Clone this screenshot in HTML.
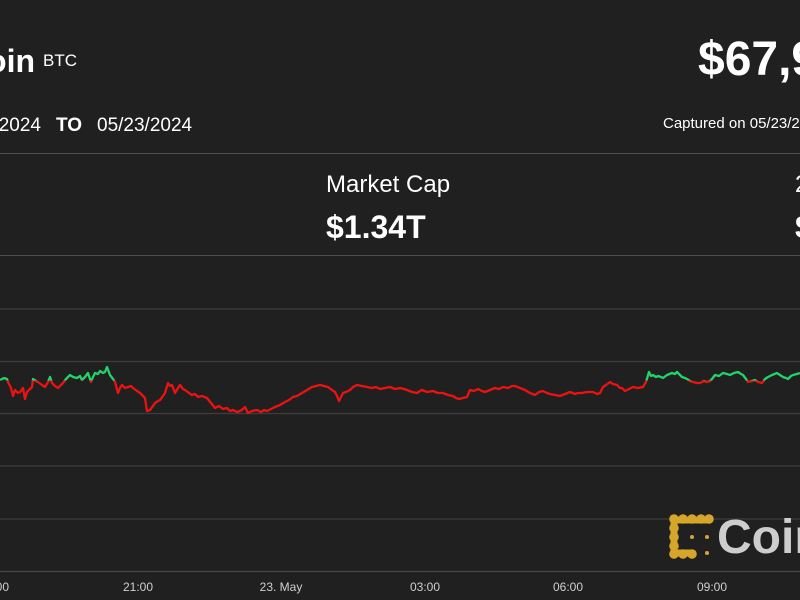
<!DOCTYPE html>
<html><head><meta charset="utf-8"><style>
html,body{margin:0;padding:0;}
body{width:800px;height:600px;background:#202020;overflow:hidden;font-family:"Liberation Sans",Arial,sans-serif;color:#fff;}
#w{position:relative;width:800px;height:600px;overflow:hidden;background:#202020;}
.t{position:absolute;white-space:nowrap;line-height:1;}
.sep{position:absolute;left:0;width:800px;height:1px;background:#505050;}
.ax{position:absolute;top:580px;font-size:12px;color:#cfcfcf;width:60px;text-align:center;line-height:14px;}
</style></head><body><div id="w">
<div class="t" style="right:765px;top:45px;font-size:32px;font-weight:bold;">Bitcoin</div>
<div class="t" style="left:43px;top:52px;font-size:17px;">BTC</div>
<div class="t" style="left:698px;top:36px;font-size:48px;font-weight:bold;">$67,945.12</div>
<div class="t" style="left:663px;top:116px;font-size:15px;">Captured on 05/23/2024</div>
<div class="t" style="right:759px;top:116px;font-size:19px;">05/22/2024</div>
<div class="t" style="left:56px;top:116px;font-size:19px;font-weight:bold;">TO</div>
<div class="t" style="left:97px;top:116px;font-size:19px;">05/23/2024</div>
<div class="sep" style="top:153px;"></div>
<div class="t" style="left:326px;top:173px;font-size:24px;">Market Cap</div>
<div class="t" style="left:326px;top:211px;font-size:32px;font-weight:bold;">$1.34T</div>
<div class="t" style="left:795px;top:173px;font-size:24px;">24h Volume</div>
<div class="t" style="left:795px;top:211px;font-size:32px;font-weight:bold;">$31.2B</div>
<div class="sep" style="top:255px;"></div>
<svg width="800" height="600" style="position:absolute;left:0;top:0;">
<defs>
<clipPath id="up"><rect x="0" y="0" width="800" height="380.5"/></clipPath>
<clipPath id="dn"><rect x="0" y="380.5" width="800" height="220"/></clipPath>
</defs>
<g stroke="#3d3d3d" stroke-width="1.3">
<line x1="0" y1="309" x2="800" y2="309"/>
<line x1="0" y1="361.5" x2="800" y2="361.5"/>
<line x1="0" y1="413.5" x2="800" y2="413.5"/>
<line x1="0" y1="466" x2="800" y2="466"/>
<line x1="0" y1="519" x2="800" y2="519"/>
<line x1="0" y1="571.5" x2="800" y2="571.5" stroke="#474747"/>
</g>
<g id="ln">
<polyline id="p" fill="none" stroke-width="2.3" stroke-linejoin="round" points="0,380 4,378 7,379 8,382 11,388 13,396 15,390 18,393 20,392 23,388 25,399 27,392 30,389 32,387 33,379 36,381 38,382 42,385 45,387 48,382 50,377 52,383 55,386 58,388 61,385 63,383 66,379 70,375 73,377 77,378 80,376 82,380 85,377 88,373 91,382 93,377 95,373 98,374 100,371 103,373 105,372 107,367 110,375 113,379 115,382 118,393 120,388 122,385 125,388 128,387 131,386 133,388 137,391 140,393 143,396 145,398 147,411 150,410 153,406 155,403 158,401 160,400 163,396 165,393 168,383 170,386 172,385 175,393 178,388 180,385 183,389 185,390 189,393 192,395 195,394 198,397 202,396 207,398 211,403 215,408 219,406 223,409 227,408 230,411 233,410 237,412 240,411 243,409 245,407 248,413 252,411 257,410 261,412 264,410 267,411 271,409 275,407 280,405 285,402 289,400 293,397 297,396 302,393 307,390 312,387 316,386 320,385 324,386 328,387 332,390 335,392 337,396 339,401 341,397 343,393 346,392 350,390 353,387 357,385 362,386 367,387 372,388 376,387 380,389 385,388 390,387 395,389 400,388 404,389 407,390 412,392 417,393 420,391 422,390 427,392 433,391 438,393 443,393 448,395 453,396 456,398 459,399 463,398 467,397 470,390 474,391 478,389 482,391 485,392 490,390 495,388 499,389 503,387 508,388 512,386 515,386 520,388 525,390 530,393 535,395 539,392 543,391 547,393 550,394 555,395 560,396 565,394 570,392 575,394 578,393 582,393 587,392 593,392 597,394 600,393 603,387 606,385 610,382 613,384 617,385 620,388 622,388 625,391 629,389 633,387 638,388 643,387 646,382 649,372 651,376 653,375 656,377 658,376 661,377 663,378 667,375 672,373 675,374 677,372 680,375 682,377 685,378 687,379 690,381 693,382 697,383 700,383 704,381 707,382 710,381 712,379 715,375 719,376 723,373 727,374 730,375 734,373 738,372 741,374 743,375 746,379 748,382 752,381 755,380 758,382 762,383 765,379 768,377 772,375 777,373 780,375 783,377 786,378 788,379 791,376 793,375 797,374 800,373"/>
</g>
<use href="#p" stroke="#20d36a" clip-path="url(#up)"/>
<use href="#p" stroke="#ec1212" clip-path="url(#dn)"/>
<g fill="#d6a62a" stroke="#d6a62a">
<polyline points="674,520 709,520" stroke-width="7" fill="none" stroke-linecap="round"/>
<polyline points="674,520 674,553 692,553" stroke-width="7" fill="none" stroke-linecap="round" stroke-linejoin="round"/>
<g stroke="none">
<circle cx="674" cy="519" r="4.8"/><circle cx="683" cy="519" r="4.8"/><circle cx="692" cy="519" r="4.8"/><circle cx="701" cy="519" r="4.8"/><circle cx="709" cy="519" r="4.8"/>
<circle cx="674" cy="528" r="4.8"/><circle cx="674" cy="537" r="4.8"/><circle cx="674" cy="546" r="4.8"/><circle cx="674" cy="554" r="4.8"/>
<circle cx="683" cy="554" r="4.8"/><circle cx="692" cy="554" r="4.8"/>
<circle cx="692" cy="537" r="2"/><circle cx="707" cy="537" r="2"/><circle cx="707" cy="553" r="2"/>
</g>
</g>
</svg>
<div class="t" style="left:717px;top:514px;font-size:48px;font-weight:bold;color:#cdcdcd;">CoinDesk</div>
<div class="ax" style="left:-36px;">18:00</div>
<div class="ax" style="left:108px;">21:00</div>
<div class="ax" style="left:251px;">23. May</div>
<div class="ax" style="left:395px;">03:00</div>
<div class="ax" style="left:538px;">06:00</div>
<div class="ax" style="left:682px;">09:00</div>
</div></body></html>
